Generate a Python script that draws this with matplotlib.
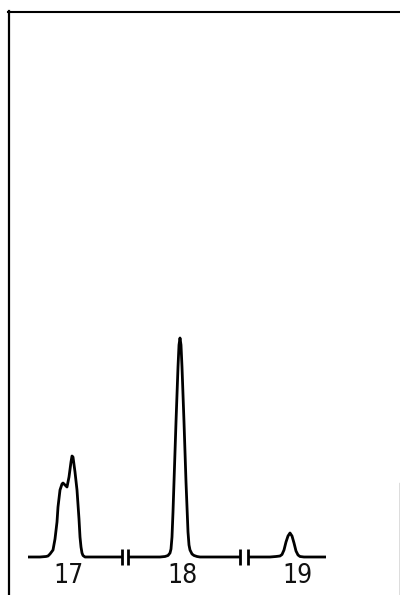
import matplotlib
matplotlib.use("Agg")
import matplotlib.pyplot as plt
from matplotlib.lines import Line2D

# Chromatogram trace, split into three windows (detector signal vs. position)
seg1_x = [28, 40, 46, 48, 50, 53, 55, 57, 58, 60, 62, 63, 65, 67, 69, 71, 72, 73, 75, 77, 79, 80, 81, 82, 83, 85, 90, 122]
seg1_y = [0, 0, 0.5, 1, 3, 7, 18, 35, 50, 67, 73, 74, 72, 70, 80, 95, 101, 100, 85, 67, 38, 20, 10, 4, 1.5, 0, 0, 0]

seg2_x = [128, 160, 165, 168, 170, 171, 172, 173, 174, 176, 178, 179, 180, 181, 182, 184, 186, 188, 189, 190, 192, 194, 197, 200, 240]
seg2_y = [0, 0, 0.5, 1.5, 4, 8, 20, 45, 75, 135, 190, 212, 219, 212, 190, 135, 75, 25, 12, 7, 3, 1.5, 0.5, 0, 0]

seg3_x = [248, 270, 276, 280, 282, 284, 286, 288, 290, 292, 294, 296, 298, 300, 304, 326]
seg3_y = [0, 0, 0.5, 1, 2.5, 7, 15, 21, 24, 21, 14, 6, 2, 0.5, 0, 0]

# Axis breaks between windows
break_x = [122, 128, 240, 248]

# Peak labels
peak_labels = ["17", "18", "19"]
label_x = [68, 183, 297]

W, H = 400, 595
fig = plt.figure(figsize=(W / 100, H / 100), dpi=100)
fig.patch.set_facecolor("white")
ax = fig.add_axes([0, 0, 1, 1])
ax.set_xlim(0, W)
baseline_px = 557
ax.set_ylim(baseline_px - H, baseline_px)
ax.axis("off")

lw = 2.0
for xs, ys in [(seg1_x, seg1_y), (seg2_x, seg2_y), (seg3_x, seg3_y)]:
    ax.plot(xs, ys, color="black", lw=lw, solid_capstyle="butt", solid_joinstyle="round")

for bx in break_x:
    ax.plot([bx, bx], [-8, 8], color="black", lw=lw, solid_capstyle="butt")

for lab, lx in zip(peak_labels, label_x):
    ax.text(lx, -19, lab, ha="center", va="center", fontsize=19,
            family="DejaVu Sans", fontstretch="condensed", color="#111111")

# Recorder frame
fig.add_artist(Line2D([8.5 / W, 8.5 / W], [0, 1 - 11 / H], transform=fig.transFigure,
                      color="black", lw=1.6))
fig.add_artist(Line2D([8 / W, 1.0], [1 - 11.5 / H, 1 - 11.5 / H], transform=fig.transFigure,
                      color="black", lw=1.5))
fig.add_artist(Line2D([399.5 / W, 399.5 / W], [0, 1 - 483 / H], transform=fig.transFigure,
                      color="#555555", lw=1.0))

fig.savefig("out.png", dpi=100)
